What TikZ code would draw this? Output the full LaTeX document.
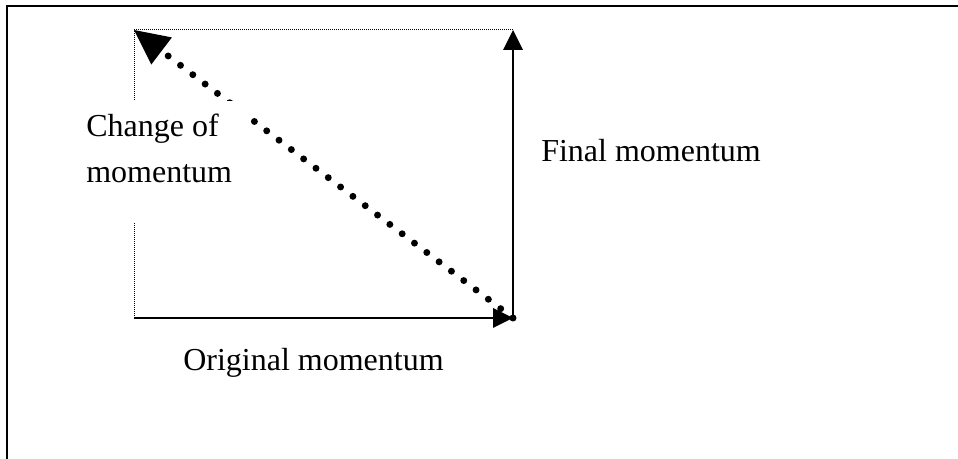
\documentclass[tikz,border=0pt]{standalone}
\usepackage{fontspec}
\setmainfont{Liberation Serif}
\usetikzlibrary{arrows.meta}
\begin{document}
\begin{tikzpicture}[x=0.75pt,y=-0.75pt,
  frame/.style={line width=1.9pt},
  guide/.style={line width=0.75pt, dash pattern=on 0.75pt off 0.75pt},
  vec/.style={line width=1.4pt, -{Triangle[length=15pt,width=15pt,line width=0pt]}},
  dvec/.style={line width=5.2pt, line cap=round, dash pattern=on 0pt off 11.6pt,
    -{Triangle[length=26pt,width=25.5pt,line width=0pt]}},
  lbl/.style={font=\fontsize{24}{34.5}\selectfont, inner sep=0pt}]
\useasboundingbox (0,0) rectangle (958,459);
% frame
\coordinate (FB) at (7,459);
\coordinate (FC) at (7,6);
\coordinate (FR) at (958,6);
\draw[frame] (FB) -- (FC) -- (FR);
% corners of the rectangle
\coordinate (C) at (134,318);
\coordinate (A) at (513,318);
\coordinate (B) at (134,30);
\coordinate (D) at (513,30);
% dotted guides
\draw[guide] (C) -- (B) -- (D);
% change of momentum
\draw[dvec] (A) -- (B);
\fill[white] (80,101) rectangle (250,222);
\node[lbl, anchor=base west, align=left] (chg) at (86,183) {Change of\\momentum};
% vectors
\draw[vec] (C) -- (A);
\draw[vec] (A) -- (D);
\fill (A) circle (2.4pt);
% labels
\node[lbl, anchor=base west] (fin) at (541,162) {Final momentum};
\node[lbl, anchor=base west] (orig) at (183,371) {Original momentum};
\end{tikzpicture}
\end{document}
